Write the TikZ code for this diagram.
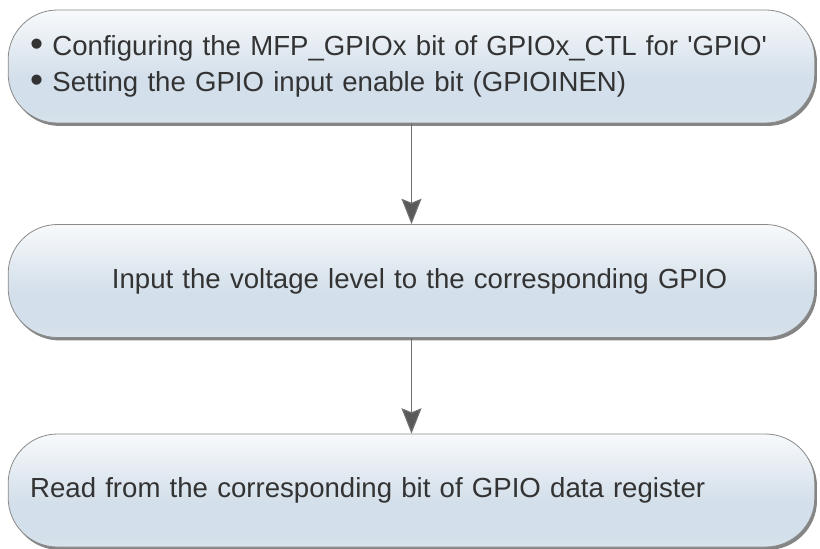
\documentclass[tikz,border=0pt]{standalone}
\usepackage{fontspec}
\setmainfont{Liberation Sans}
\usetikzlibrary{positioning,shadows,arrows.meta}
\definecolor{boxline}{HTML}{8A8A8A}
\definecolor{boxtop}{HTML}{FBFCFD}
\definecolor{boxmid}{HTML}{D3DFEA}
\definecolor{boxbot}{HTML}{EEF2F5}
\definecolor{arrowgray}{HTML}{6E6E6E}
\pgfdeclareverticalshading{stepshade}{100bp}{color(0bp)=(boxbot); color(8bp)=(boxbot); color(30bp)=(boxmid); color(45bp)=(boxmid); color(78bp)=(boxtop); color(100bp)=(boxtop)}
\newcommand\stepdot{\raisebox{-0.5pt}{\scalebox{1.35}{\textbullet}}}

\begin{document}
\begin{tikzpicture}[x=0.75pt, y=-0.75pt,
	stepbox/.style={draw=boxline, line width=0.6pt, rounded corners=37pt,
		shading=stepshade,
		drop shadow={shadow xshift=1.6pt, shadow yshift=-2.2pt, fill=black!60, opacity=0.8},
		text width=572pt, inner xsep=16.5pt, minimum height=84.75pt,
		font=\fontsize{20.7}{27}\selectfont, text=black!80},
	flowarrow/.style={draw=arrowgray, line width=0.9pt,
		-{Stealth[length=19pt, width=15pt, inset=3pt, fill=black!65]}}]
	\useasboundingbox (0,0) rectangle (820,549);
	\node[stepbox, align=left] (cfg) at (411.5,66.5) {\stepdot\ Configuring the MFP\_GPIOx bit of GPIOx\_CTL for \textquotesingle GPIO\textquotesingle\\\stepdot\ Setting the GPIO input enable bit (GPIOINEN)};
	\node[stepbox, align=center] (volt) at (411.5,281) {\hspace*{12pt}Input the voltage level to the corresponding GPIO};
	\node[stepbox, align=left] (rd) at (411.5,490.5) {Read from the corresponding bit of GPIO data register};
	\draw[flowarrow] (cfg) -- (volt);
	\draw[flowarrow] (volt) -- (rd);
\end{tikzpicture}
\end{document}
